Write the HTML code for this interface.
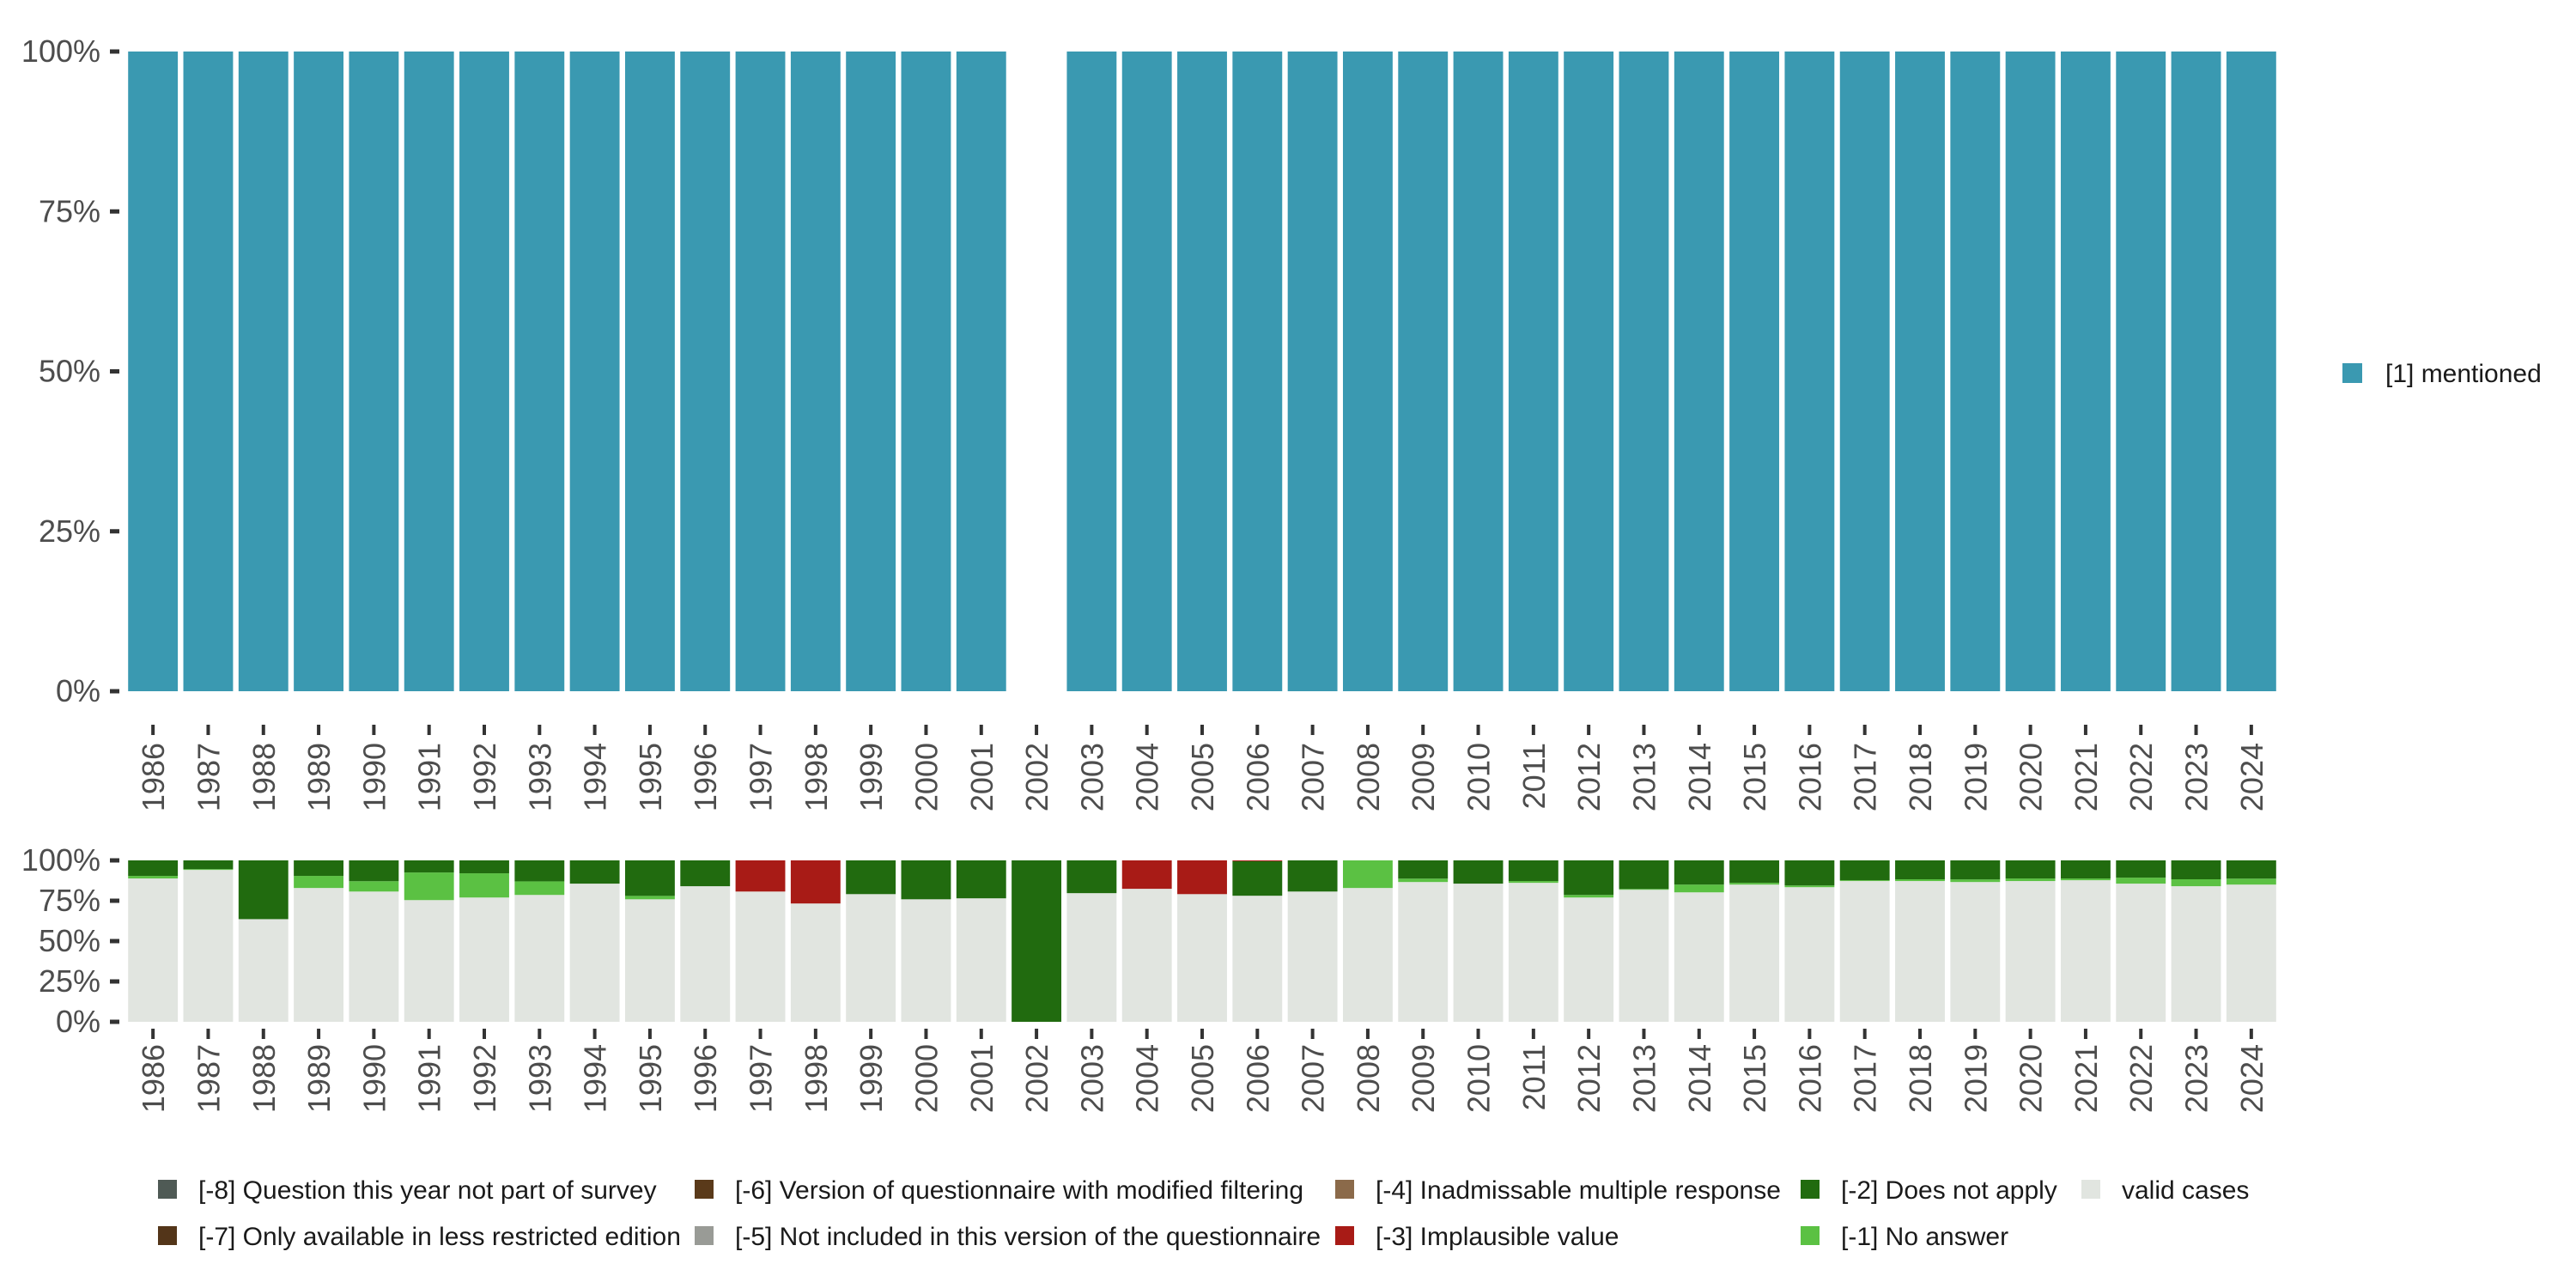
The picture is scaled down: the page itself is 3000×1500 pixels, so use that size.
<!DOCTYPE html>
<html><head><meta charset="utf-8"><style>
html,body{margin:0;padding:0;background:#fff;}
svg{display:block;font-family:"Liberation Sans",sans-serif;}
</style></head><body>
<svg id="chart" width="3000" height="1500" viewBox="0 0 3000 1500" xmlns="http://www.w3.org/2000/svg"></svg>
<script>
const years = [1986,1987,1988,1989,1990,1991,1992,1993,1994,1995,1996,1997,1998,1999,2000,2001,2002,2003,2004,2005,2006,2007,2008,2009,2010,2011,2012,2013,2014,2015,2016,2017,2018,2019,2020,2021,2022,2023,2024];
const mentioned = [100,100,100,100,100,100,100,100,100,100,100,100,100,100,100,100,null,100,100,100,100,100,100,100,100,100,100,100,100,100,100,100,100,100,100,100,100,100,100];
const validCases = [88.8,94.1,63.6,82.9,80.7,75.4,77.0,78.6,85.6,75.9,84.0,80.7,73.3,79.1,75.9,76.5,0,79.7,82.4,79.1,78.1,80.7,82.9,86.6,85.6,86.1,77.0,81.8,80.2,85.0,83.4,87.2,87.2,86.6,87.2,87.7,85.6,84.0,85.0];
const noAnswer = [1.6,0.5,0,7.5,6.4,17.1,15.0,8.4,0,2.1,0,0,0,0,0,0,0,0,0,0,0,0,17.1,2.1,0,1.1,1.6,0.5,4.8,1.1,1.1,0.5,1.1,1.6,1.6,1.1,3.7,4.3,3.7];
const implausible = [0,0,0,0,0,0,0,0,0,0,0,19.3,26.7,0,0,0,0,0,17.6,20.9,0.5,0,0,0,0,0,0,0,0,0,0,0,0,0,0,0,0,0,0];
const yTicks = [0,25,50,75,100];
const yTickLabels = ["0%","25%","50%","75%","100%"];

const NS="http://www.w3.org/2000/svg";
const svg=document.getElementById('chart');
function mk(tag,attrs,parent){const e=document.createElementNS(NS,tag);for(const k in attrs)e.setAttribute(k,attrs[k]);(parent||svg).appendChild(e);return e;}
const X0=146, X1=2654, step=(X1-X0)/years.length, bw=step*0.9;
function xc(i){return X0+step*(i+0.5);}
function yTop(v){return 805-(805-60)*v/100;}
function yBot(v){return 1190-(1190-1002)*v/100;}

function axes(yf, tickY0, labelY, name){
  yTicks.forEach((t,k)=>{
    const l=mk('line',{x1:128,x2:139,y1:yf(t),y2:yf(t),stroke:'#333',"stroke-width":5});
    
    
    const tx=mk('text',{x:117,y:yf(t)+12,"text-anchor":"end","font-size":36,fill:'#4d4d4d'});
    tx.textContent=yTickLabels[k];
    
    
  });
  years.forEach((yr,i)=>{
    const l=mk('line',{x1:xc(i),x2:xc(i),y1:tickY0,y2:tickY0+12,stroke:'#333',"stroke-width":4});
    
    
    const tx=mk('text',{x:0,y:0,"text-anchor":"end","font-size":36,fill:'#4d4d4d',transform:`translate(${xc(i)+13},${labelY}) rotate(-90)`});
    tx.textContent=yr;
    
    
  });
}

// top chart
years.forEach((yr,i)=>{
  if(mentioned[i]==null)return;
  const r=mk('rect',{x:xc(i)-bw/2,y:yTop(mentioned[i]),width:bw,height:yTop(0)-yTop(mentioned[i]),fill:'#3a99b1'});
  
  
});
axes(yTop,844,865,'top');

// bottom chart
years.forEach((yr,i)=>{
  let acc=0;
  const segs=[[validCases[i],'#e1e5e0','valid'],[noAnswer[i],'#5bc143','no-answer'],[100-validCases[i]-noAnswer[i]-implausible[i],'#216b0f','does-not-apply'],[implausible[i],'#a81b16','implausible']];
  segs.forEach(s=>{
    if(s[0]<=0){return;}
    const r=mk('rect',{x:xc(i)-bw/2,y:yBot(acc+s[0]),width:bw,height:yBot(acc)-yBot(acc+s[0]),fill:s[1]});
    
    
    acc+=s[0];
  });
});
axes(yBot,1198,1216,'bottom');

// top legend
const tl=mk('rect',{x:2728,y:423,width:23,height:23,fill:'#3a99b1'});


const tlt=mk('text',{x:2778,y:445,"font-size":30,fill:'#1a1a1a'});
tlt.textContent='[1] mentioned';



// bottom legend
const legItems=[
 [184,1385,'#4f5a55','[-8] Question this year not part of survey'],
 [184,1439,'#533519','[-7] Only available in less restricted edition'],
 [809,1385,'#5a3a1a','[-6] Version of questionnaire with modified filtering'],
 [809,1439,'#999b96','[-5] Not included in this version of the questionnaire'],
 [1555,1385,'#8b6a4a','[-4] Inadmissable multiple response'],
 [1555,1439,'#a81b16','[-3] Implausible value'],
 [2097,1385,'#216b0f','[-2] Does not apply'],
 [2097,1439,'#5bc143','[-1] No answer'],
 [2424,1385,'#e1e5e0','valid cases']];
legItems.forEach(it=>{
  const r=mk('rect',{x:it[0],y:it[1]-11,width:22,height:22,fill:it[2]});
  
  
  const t=mk('text',{x:it[0]+47,y:it[1]+11,"font-size":30,fill:'#1a1a1a'});
  t.textContent=it[3];
  
  
});
</script>
</body></html>
